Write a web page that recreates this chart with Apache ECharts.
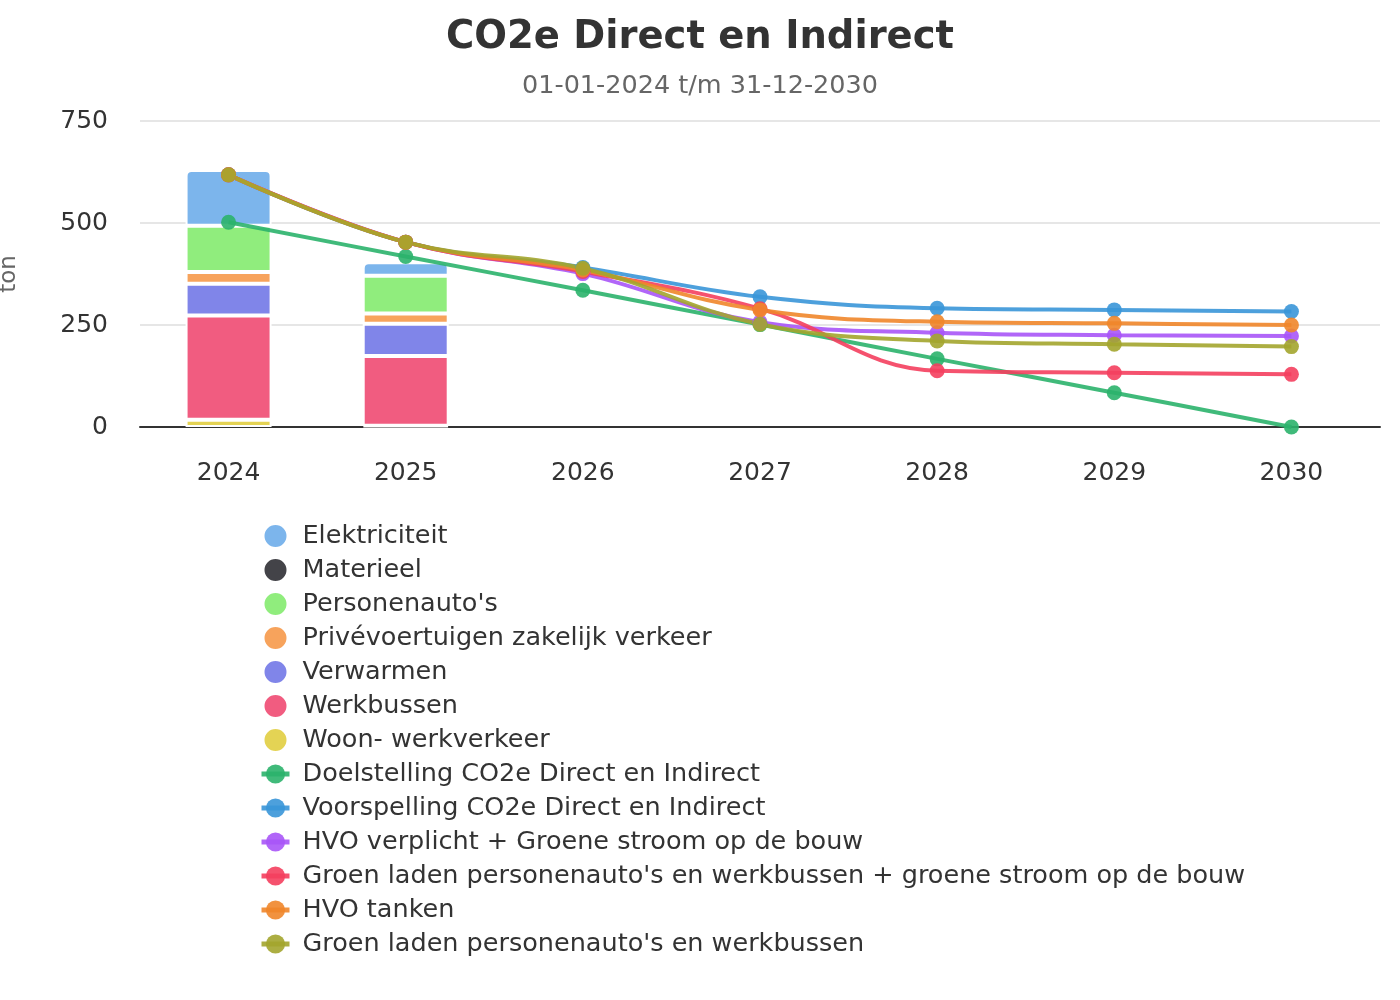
<!DOCTYPE html>
<html>
<head>
<meta charset="utf-8">
<script src="https://cdn.jsdelivr.net/npm/echarts@6/dist/echarts.min.js"></script>
<style>html,body{margin:0;padding:0;background:#fff;}#c{width:1400px;height:1000px;}</style>
</head>
<body>
<div id="c"></div>
<script>
const categories = ['2024','2025','2026','2027','2028','2029','2030'];
const yTicks = [0, 250, 500, 750];

// stacked bars (bottom to top)
const woonWerk      = [18, 3, '-', '-', '-', '-', '-'];
const werkbussen    = [255, 171, '-', '-', '-', '-', '-'];
const verwarmen     = [78, 79, '-', '-', '-', '-', '-'];
const prive         = [29, 25, '-', '-', '-', '-', '-'];
const personenautos = [113, 93, '-', '-', '-', '-', '-'];
const materieel     = ['-', '-', '-', '-', '-', '-', '-'];
const elektriciteit = [137, 33, '-', '-', '-', '-', '-'];

// lines
const doelstelling   = [502, 418, 335, 251, 167, 84, 0];
const voorspelling   = [618, 453, 391, 319, 291, 287, 283];
const hvoVerplicht   = [618, 453, 376, 257, 231, 225, 223];
const groenLadenStroom = [618, 453, 381, 290, 138, 133, 129];
const hvoTanken      = [618, 453, 385, 287, 258, 254, 250];
const groenLaden     = [618, 453, 389, 252, 211, 203, 197];

const font = 'DejaVu Sans';
const chart = echarts.init(document.getElementById('c'));

function bar(name, data, color, top) {
  return {
    name, type: 'bar', stack: 'total', data, barWidth: 86,
    itemStyle: { color, borderColor: '#fff', borderWidth: 2, borderRadius: top ? [5,5,0,0] : 0 },
    z: 2
  };
}
function line(name, data, color) {
  return {
    name, type: 'line', data, smooth: 0.4, symbol: 'circle', symbolSize: 15,
    lineStyle: { color, width: 4, opacity: 0.9 },
    itemStyle: { color, opacity: 0.9 },
    z: 5
  };
}

const barColors = {
  'Elektriciteit': '#7cb5ec', 'Materieel': '#434348', "Personenauto's": '#90ed7d',
  'Privévoertuigen zakelijk verkeer': '#f7a35c', 'Verwarmen': '#8085e9',
  'Werkbussen': '#f15c80', 'Woon- werkverkeer': '#e4d354'
};
const lineNames = [
  'Doelstelling CO2e Direct en Indirect', 'Voorspelling CO2e Direct en Indirect',
  'HVO verplicht + Groene stroom op de bouw',
  "Groen laden personenauto's en werkbussen + groene stroom op de bouw",
  'HVO tanken', "Groen laden personenauto's en werkbussen"
];

const option = {
  backgroundColor: '#fff',
  animation: false,
  title: [
    { text: 'CO2e Direct en Indirect', left: 'center', top: 13,
      textStyle: { fontFamily: font, fontSize: 38.5, fontWeight: 'bold', color: '#333' } },
    { text: '01-01-2024 t/m 31-12-2030', left: 'center', top: 68,
      textStyle: { fontFamily: font, fontSize: 25.5, fontWeight: 'normal', color: '#666' } }
  ],
  grid: { left: 140, right: 20, top: 121, bottom: 573, outerBoundsMode: 'none', containLabel: false },
  legend: {
    orient: 'vertical', left: 254, top: 518,
    itemWidth: 28, itemHeight: 24, itemGap: 8,
    lineStyle: { width: 5 },
    textStyle: { fontFamily: font, fontSize: 25.5, color: '#333', lineHeight: 24, padding: [0, 0, 0, 8] },
    data: [
      ...Object.keys(barColors).map(n => ({ name: n, icon: 'circle' })),
      ...lineNames.map(n => ({ name: n }))
    ]
  },
  xAxis: {
    type: 'category', data: categories,
    axisLine: { lineStyle: { color: '#333', width: 2 } },
    axisTick: { show: false },
    axisLabel: { fontFamily: font, fontSize: 25, color: '#333', margin: 34 }
  },
  yAxis: {
    type: 'value', min: yTicks[0], max: yTicks[yTicks.length - 1], interval: 250,
    name: 'ton', nameLocation: 'middle', nameRotate: 90, nameGap: 119,
    nameTextStyle: { fontFamily: font, fontSize: 23, color: '#666' },
    axisLabel: { fontFamily: font, fontSize: 25, color: '#333', margin: 32 },
    splitLine: { lineStyle: { color: '#e6e6e6', width: 2 } }
  },
  series: [
    bar('Woon- werkverkeer', woonWerk, barColors['Woon- werkverkeer']),
    bar('Werkbussen', werkbussen, barColors['Werkbussen']),
    bar('Verwarmen', verwarmen, barColors['Verwarmen']),
    bar('Privévoertuigen zakelijk verkeer', prive, barColors['Privévoertuigen zakelijk verkeer']),
    bar("Personenauto's", personenautos, barColors["Personenauto's"]),
    bar('Materieel', materieel, barColors['Materieel']),
    bar('Elektriciteit', elektriciteit, barColors['Elektriciteit'], true),
    line(lineNames[0], doelstelling, '#2bb36b'),
    line(lineNames[1], voorspelling, '#3a96d8'),
    line(lineNames[2], hvoVerplicht, '#a855f7'),
    line(lineNames[3], groenLadenStroom, '#f43f5e'),
    line(lineNames[4], hvoTanken, '#f0862a'),
    line(lineNames[5], groenLaden, '#a3a52e')
  ]
};
chart.setOption(option);
</script>
</body>
</html>
